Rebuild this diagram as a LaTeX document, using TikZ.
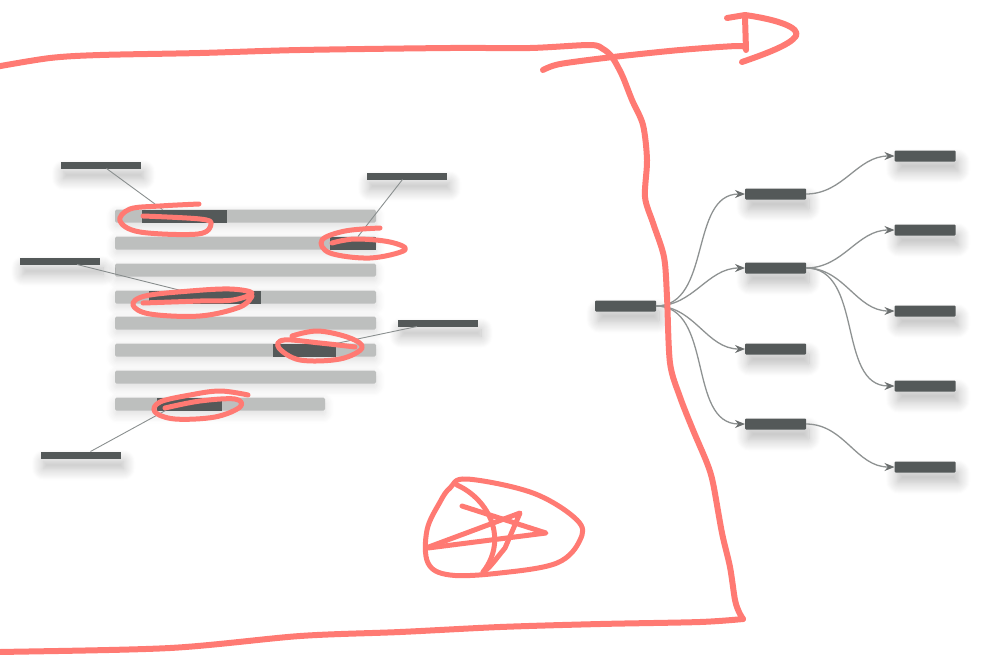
\documentclass[tikz,border=0pt]{standalone}
\usetikzlibrary{arrows.meta,shadows.blur}
\definecolor{dk}{HTML}{545959}
\definecolor{lg}{HTML}{BDBFBE}
\definecolor{leadc}{HTML}{8A8F8F}
\definecolor{edgec}{HTML}{8E9292}
\definecolor{tipc}{HTML}{6A6E6E}
\definecolor{redc}{HTML}{FF7A73}
\tikzset{
  sh/.style={blur shadow={shadow xshift=3pt, shadow yshift=-10pt, shadow blur radius=12pt, shadow blur steps=12, shadow opacity=28}},
  lbl/.style={fill=dk, minimum width=80pt, minimum height=7pt, inner sep=0pt, outer sep=0pt, sh},
  bar/.style={fill=lg, rounded corners=1.5pt, minimum height=13pt, inner sep=0pt, outer sep=0pt,
    blur shadow={shadow xshift=0pt, shadow yshift=-4pt, shadow blur radius=9pt, shadow blur steps=8, shadow opacity=14}},
  hl/.style={fill=dk, minimum height=13pt, inner sep=0pt, outer sep=0pt},
  tnode/.style={fill=dk, minimum width=61pt, minimum height=11pt, rounded corners=1pt, inner sep=0pt, outer sep=0pt, sh},
  leadline/.style={draw=leadc, line width=0.9pt},
  tedge/.style={draw=edgec, line width=1.3pt, -{Stealth[length=10pt,width=8pt,color=tipc,fill=tipc]}},
  redline/.style={draw=redc, line width=6pt, line cap=round, line join=round},
}
\begin{document}
\begin{tikzpicture}[x=1pt,y=-1pt]
\useasboundingbox (0,0) rectangle (985,654);
% text block bars
\node[bar, minimum width=261pt, anchor=west] (b1) at (115,216) {};
\node[bar, minimum width=261pt, anchor=west] (b2) at (115,243) {};
\node[bar, minimum width=261pt, anchor=west] (b3) at (115,270) {};
\node[bar, minimum width=261pt, anchor=west] (b4) at (115,297) {};
\node[bar, minimum width=261pt, anchor=west] (b5) at (115,323) {};
\node[bar, minimum width=261pt, anchor=west] (b6) at (115,350) {};
\node[bar, minimum width=261pt, anchor=west] (b7) at (115,377) {};
\node[bar, minimum width=210pt, anchor=west] (b8) at (115,404) {};
% highlights
\node[hl, minimum width=85pt, anchor=west] (h1) at (142,216) {};
\node[hl, minimum width=46pt, anchor=west] (h2) at (330,243) {};
\node[hl, minimum width=112pt, anchor=west] (h4) at (149,297) {};
\node[hl, minimum width=63pt, anchor=west] (h6) at (273,350) {};
\node[hl, minimum width=65pt, anchor=west] (h8) at (157,404) {};
% labels
\node[lbl] (l1) at (100.5,165) {};
\node[lbl] (l2) at (406.5,176) {};
\node[lbl] (l3) at (60,261) {};
\node[lbl] (l4) at (438,323) {};
\node[lbl] (l5) at (80.5,455) {};
% leader lines
\draw[leadline] ([xshift=6pt]l1.south) -- ([xshift=-22pt]h1.north);
\draw[leadline] ([xshift=-4pt]l2.south) -- ([xshift=5pt]h2.north);
\draw[leadline] ([xshift=17pt]l3.south) -- ([xshift=-24pt]h4.north);
\draw[leadline] ([xshift=-21pt]l4.south) -- (h6.north east);
\draw[leadline] ([xshift=10pt]l5.north) -- ([xshift=-24pt]h8.south);
% tree
\node[tnode] (r) at (625.5,306) {};
\node[tnode] (a1) at (775.5,194) {};
\node[tnode] (a2) at (775.5,268) {};
\node[tnode] (a3) at (775.5,349) {};
\node[tnode] (a4) at (775.5,424) {};
\node[tnode] (c1) at (925,156) {};
\node[tnode] (c2) at (925,230) {};
\node[tnode] (c3) at (925,311) {};
\node[tnode] (c4) at (925,386) {};
\node[tnode] (c5) at (925,467) {};
\draw[tedge] (r.east) to[out=0,in=180] (a1.west);
\draw[tedge] (r.east) to[out=0,in=180] (a2.west);
\draw[tedge] (r.east) to[out=0,in=180] (a3.west);
\draw[tedge] (r.east) to[out=0,in=180] (a4.west);
\draw[tedge] (a1.east) to[out=0,in=180] (c1.west);
\draw[tedge] (a2.east) to[out=0,in=180] (c2.west);
\draw[tedge] (a2.east) to[out=0,in=180] (c3.west);
\draw[tedge] (a2.east) to[out=0,in=180] (c4.west);
\draw[tedge] (a4.east) to[out=0,in=180] (c5.west);
% red overlay: frame
\draw[redline] plot[smooth, tension=0.5] coordinates {(-5,67) (50,58) (100,55) (200,53) (300,50) (450,48) (530,48) (590,45) (603,49) (612,57) (622,75) (632,100) (643,125) (647,160) (645,197) (653,223) (664,257) (667,297) (670,363) (680,397) (693,430) (707,463) (713,483) (722,533) (730,567) (735,600) (739,612) (743,619)};
\draw[redline] plot[smooth, tension=0.5] coordinates {(743,619) (700,622) (600,624) (500,627) (400,632) (300,636) (170,648) (0,652) (-5,652)};
% red arrow
\draw[redline] plot[smooth, tension=0.5] coordinates {(543,70) (560,64) (613,57) (680,50) (737,46) (746,48)};
\draw[redline] (727,18) -- (745,15) .. controls (780,20) and (800,28) .. (796,36) .. controls (790,45) and (765,54) .. (742,62);
\draw[redline] (745,17) -- (746,50);
% red loops
\draw[redline, line width=5pt] plot[smooth, tension=0.6] coordinates {(199,204) (160,206) (130,209) (120,221) (140,232) (198,234) (211,224) (200,219) (143,216)};
\draw[redline, line width=5pt] plot[smooth, tension=0.6] coordinates {(380,228) (345,231) (322,240) (330,253) (370,258) (405,250) (390,242) (355,239) (332,243)};
\draw[redline, line width=5pt] plot[smooth, tension=0.6] coordinates {(143,303) (200,301) (233,300) (252,293) (230,289) (190,291) (145,296) (133,305) (150,314) (200,316) (240,307) (252,296)};
\draw[redline, line width=5pt] plot[smooth, tension=0.6] coordinates {(292,336) (318,331) (350,338) (362,348) (340,359) (300,360) (279,348) (284,340) (320,343) (355,347)};
\draw[redline, line width=5pt] plot[smooth, tension=0.6] coordinates {(248,395) (220,391) (190,395) (160,402) (155,412) (175,419) (215,417) (240,407) (235,399) (200,401) (165,408)};
% red scribble
\draw[redline, line width=5pt] plot[smooth cycle, tension=0.6] coordinates {(450,488) (467,479) (533,493) (577,520) (580,540) (557,563) (500,573) (450,575) (428,563) (427,530) (440,502)};
\draw[redline, line width=5pt] (457,485) .. controls (490,500) and (508,540) .. (483,572);
\draw[redline, line width=5pt] (426,548) -- (520,513) -- (505,548) .. controls (495,560) and (490,568) .. (483,572);
\draw[redline, line width=5pt] (428,548) -- (546,533) -- (462,506);
\end{tikzpicture}
\end{document}
